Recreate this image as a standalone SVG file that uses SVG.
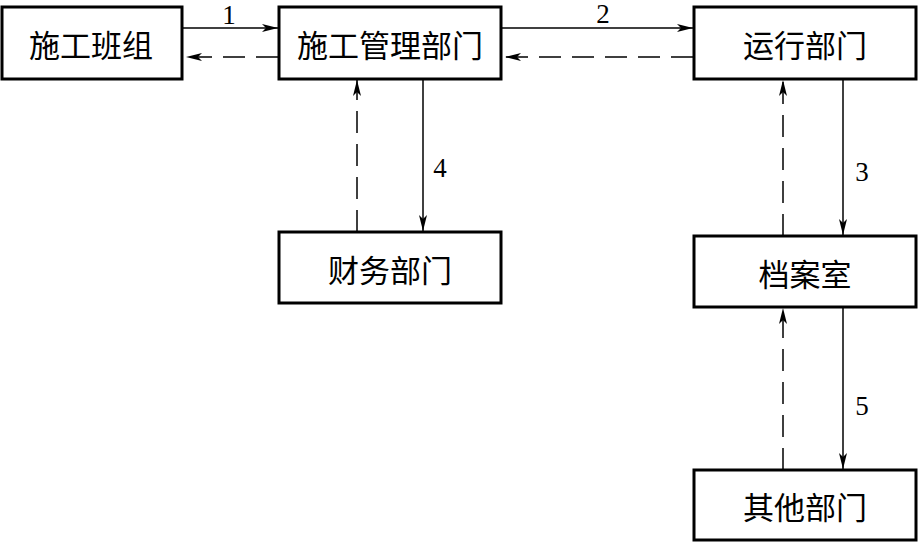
<svg xmlns="http://www.w3.org/2000/svg" width="919" height="543" viewBox="0 0 919 543">
<defs>
<marker id="ah" viewBox="0 0 16 8" refX="16" refY="4" markerWidth="16" markerHeight="8" markerUnits="userSpaceOnUse" orient="auto">
<path d="M0,0 L16,4 L0,8 L4,4 Z" fill="#000"/>
</marker>
</defs>
<style>
.box{fill:#fff;stroke:#000;stroke-width:3}
.lbl{font-family:"Noto Sans CJK SC","Liberation Serif",serif;font-size:31px;fill:#000;text-anchor:middle;dominant-baseline:central}
.num{font-family:"Liberation Serif",serif;font-size:27px;fill:#000;text-anchor:middle}
.s{stroke:#000;stroke-width:1.5;fill:none;marker-end:url(#ah)}
.d{stroke:#000;stroke-width:1.5;fill:none;stroke-dasharray:22 11;marker-end:url(#ah)}
</style>
<g id="n1"><rect class="box" x="2" y="7" width="180" height="72"/><text class="lbl" x="91" y="43">施工班组</text></g>
<g id="n2"><rect class="box" x="279" y="7" width="222" height="72"/><text class="lbl" x="390" y="43">施工管理部门</text></g>
<g id="n3"><rect class="box" x="694" y="7" width="222" height="72"/><text class="lbl" x="805" y="43">运行部门</text></g>
<g id="n4"><rect class="box" x="279" y="232" width="222" height="71"/><text class="lbl" x="390" y="268">财务部门</text></g>
<g id="n5"><rect class="box" x="694" y="236" width="222" height="71"/><text class="lbl" x="805" y="272">档案室</text></g>
<g id="n6"><rect class="box" x="694" y="470" width="222" height="70"/><text class="lbl" x="805" y="505">其他部门</text></g>
<g id="connectors">
<line class="s" x1="182" y1="28" x2="278" y2="28"/>
<line class="d" x1="278" y1="57" x2="186" y2="57"/>
<line class="s" x1="501" y1="28" x2="693" y2="28"/>
<line class="d" x1="693" y1="57" x2="505" y2="57"/>
<line class="s" x1="423" y1="79" x2="423" y2="231"/>
<line class="d" x1="357" y1="232" x2="357" y2="80"/>
<line class="s" x1="843" y1="79" x2="843" y2="235"/>
<line class="d" x1="783" y1="236" x2="783" y2="80"/>
<line class="s" x1="843" y1="307" x2="843" y2="469"/>
<line class="d" x1="783" y1="470" x2="783" y2="308"/>
<text class="num" x="229" y="24">1</text>
<text class="num" x="603" y="23">2</text>
<text class="num" x="862" y="181">3</text>
<text class="num" x="440" y="177">4</text>
<text class="num" x="862" y="415">5</text>
</g>
</svg>
